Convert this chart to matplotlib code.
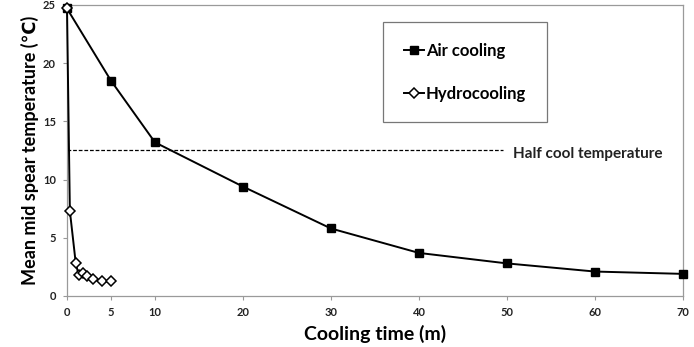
import matplotlib
matplotlib.use("Agg")
import matplotlib.pyplot as plt

# Air cooling (minutes, mean mid spear temperature)
air_time = [0, 5, 10, 20, 30, 40, 50, 60, 70]
air_temp = [24.7, 18.5, 13.2, 9.4, 5.8, 3.7, 2.8, 2.1, 1.9]

# Hydrocooling
hydro_time = [0, 0.33, 1, 1.33, 1.83, 2.33, 3, 4, 5]
hydro_temp = [24.7, 7.3, 2.8, 1.8, 2.0, 1.7, 1.45, 1.25, 1.25]

half_cool = 12.5
half_cool_end = 49.5

x_ticks = [0, 5, 10, 20, 30, 40, 50, 60, 70]
y_ticks = [0, 5, 10, 15, 20, 25]

plt.rcParams['font.family'] = ['Lato', 'DejaVu Sans']

fig = plt.figure(figsize=(6.94, 3.47), dpi=100)
ax = fig.add_axes([0.0965, 0.147, 0.8875, 0.8386])

ax.plot(air_time, air_temp, color="black", lw=1.4, marker="s", ms=6,
        mfc="black", mec="black", label="Air cooling", zorder=3, clip_on=False)
ax.plot(hydro_time, hydro_temp, color="black", lw=1.4, marker="D", ms=5.5,
        mfc="white", mec="black", mew=1.1, label="Hydrocooling", zorder=4,
        clip_on=False)

ax.plot([0, half_cool_end], [half_cool, half_cool], color="black", lw=0.9,
        ls=(0, (3, 1.5)), zorder=2)
ax.text(half_cool_end + 1.2, half_cool - 0.3, "Half cool temperature",
        fontsize=11, fontweight="bold", va="center", ha="left", color="#222222")

ax.set_xlim(0, 70)
ax.set_ylim(0, 25)
ax.set_xticks(x_ticks)
ax.set_yticks(y_ticks)
for lab in ax.get_xticklabels() + ax.get_yticklabels():
    lab.set_fontweight("bold")
    lab.set_fontsize(8)
    lab.set_color("#222222")
ax.tick_params(axis="both", length=3, width=0.8, color="#999999", pad=5)

for s in ax.spines.values():
    s.set_color("#9a9a9a")
    s.set_linewidth(0.9)

ax.set_xlabel("Cooling time (m)", fontsize=14, fontweight="bold", labelpad=5)
ax.set_ylabel("Mean mid spear temperature (\u2103)", fontsize=13,
              fontweight="bold", labelpad=3)

leg = ax.legend(loc="upper left", bbox_to_anchor=(0.5, 0.97), frameon=True,
                fancybox=False, edgecolor="#555555", handlelength=1.2,
                handletextpad=0.1, labelspacing=1.6, borderpad=1.25,
                prop={"weight": "bold", "size": 12})
leg.get_frame().set_linewidth(0.9)
leg.get_frame().set_boxstyle("square", pad=0)

fig.savefig("out.png", dpi=100)
